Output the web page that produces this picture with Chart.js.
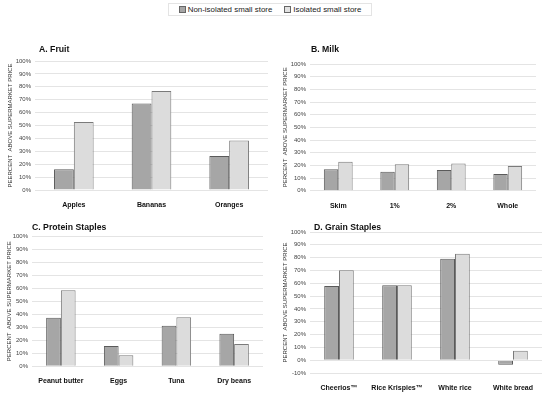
<!DOCTYPE html>
<html>
<head>
<meta charset="utf-8">
<script src="https://cdn.jsdelivr.net/npm/chart.js@4/dist/chart.umd.min.js"></script>
<style>
  html, body { margin:0; padding:0; background:#fff; }
  #wrap { position:relative; width:550px; height:397px; overflow:hidden; background:#fff; font-family:"Liberation Sans", Arial, sans-serif; }
  .cv { position:absolute; }
  #legend { position:absolute; left:168px; top:3px; width:204px; height:13px; border:1px solid #e4e4e4; box-sizing:border-box;
    font-size:7.9px; color:#222; display:flex; align-items:center; justify-content:center; gap:12px; white-space:nowrap; }
  #legend span.sw { display:inline-block; width:5px; height:5px; border:1px solid #666; margin-right:2px; vertical-align:-0.5px; }
</style>
</head>
<body>
<div id="wrap">
  <div id="legend">
    <div><span class="sw" style="background:#a6a6a6"></span>Non-isolated small store</div>
    <div><span class="sw" style="background:#e2e2e2"></span>Isolated small store</div>
  </div>
  <canvas id="cA" class="cv" style="left:0px;top:40px"></canvas>
  <canvas id="cB" class="cv" style="left:275px;top:40px"></canvas>
  <canvas id="cC" class="cv" style="left:0px;top:220px"></canvas>
  <canvas id="cD" class="cv" style="left:275px;top:220px"></canvas>
</div>
<script>
// ---- Data ----
const seriesNames = ["Non-isolated small store", "Isolated small store"];

const fruitCategories = ["Apples", "Bananas", "Oranges"];
const fruitNonIsolated = [16, 67, 26.3];
const fruitIsolated = [52.8, 76.8, 38.4];

const milkCategories = ["Skim", "1%", "2%", "Whole"];
const milkNonIsolated = [16.9, 15, 16.3, 13.2];
const milkIsolated = [22.9, 20.8, 21.5, 19.5];

const proteinCategories = ["Peanut butter", "Eggs", "Tuna", "Dry beans"];
const proteinNonIsolated = [37.3, 15.6, 31.2, 25];
const proteinIsolated = [58.3, 8.4, 37.6, 17.1];

const grainCategories = ["Cheerios\u2122", "Rice Krispies\u2122", "White rice", "White bread"];
const grainNonIsolated = [57.9, 58.4, 79.2, -3.6];
const grainIsolated = [70.1, 58.4, 83.1, 7.3];

const panelTitles = ["A. Fruit", "B. Milk", "C. Protein Staples", "D. Grain Staples"];
const axisTitles = ["PEERCENT  ABOVE SUPERMARKET PRICE", "PERCENT  ABOVE SUPERMARKET PRICE",
                    "PERCENT  ABOVE SUPERMARKET PRICE", "PERCENT  ABOVE SUPERMARKET PRICE"];
const yMinA = 0, yMinB = 0, yMinC = 0, yMinD = -10, yMax = 100, yStep = 10;

// ---- Chart builder ----
const FONT = "'Liberation Sans', Arial, sans-serif";

// Draws the panel title a few pixels right of the plot's left edge
const panelTitlePlugin = {
  id: 'panelTitle',
  afterDraw(chart, args, opts) {
    const ctx = chart.ctx;
    ctx.save();
    ctx.font = 'bold 8.7px ' + FONT;
    ctx.fillStyle = '#111';
    ctx.textBaseline = 'middle';
    ctx.textAlign = 'left';
    ctx.fillText(opts.text, chart.chartArea.left + opts.dx, opts.y);
    ctx.restore();
  }
};

function makeChart(id, cfg) {
  const cv = document.getElementById(id);
  return new Chart(cv, {
    type: 'bar',
    data: {
      labels: cfg.labels,
      datasets: [
        { label: seriesNames[0], data: cfg.d1, backgroundColor: '#a6a6a6', borderColor: '#5a5a5a', borderWidth: 1,
          categoryPercentage: 0.51, barPercentage: 1.0 },
        { label: seriesNames[1], data: cfg.d2, backgroundColor: '#dcdcdc', borderColor: '#7a7a7a', borderWidth: 1,
          categoryPercentage: 0.51, barPercentage: 1.0 }
      ]
    },
    plugins: [panelTitlePlugin],
    options: {
      responsive: false,
      maintainAspectRatio: false,
      animation: false,
      devicePixelRatio: 1,
      layout: { padding: { left: 0, right: cfg.padRight, top: cfg.padTop, bottom: 0 } },
      plugins: {
        legend: { display: false },
        tooltip: { enabled: false },
        title: { display: false },
        panelTitle: { text: cfg.title, dx: cfg.titleDx, y: cfg.titleY }
      },
      scales: {
        x: {
          grid: { display: false, drawTicks: false },
          border: { display: false },
          ticks: { color: '#111', font: { family: FONT, size: 7, weight: 'bold' }, padding: cfg.xPad, maxRotation: 0, autoSkip: false },
          afterFit: s => { s.height = cfg.xHeight; }
        },
        y: {
          min: cfg.yMin, max: yMax,
          grid: { color: '#e4e4e4', drawTicks: false, lineWidth: 1 },
          border: { display: false },
          ticks: { stepSize: yStep, color: '#444', font: { family: FONT, size: 6 }, padding: 4,
                   callback: v => v + '%' },
          title: { display: true, text: cfg.axisTitle, color: '#333', font: { family: FONT, size: 6 },
                   padding: { top: cfg.yTitlePad, bottom: 0 } },
          afterFit: s => { s.width = cfg.yWidth; }
        }
      }
    }
  });
}
function sizeCanvas(id, w, h) { const c = document.getElementById(id); c.width = w; c.height = h; c.style.width = w+'px'; c.style.height = h+'px'; }

sizeCanvas('cA', 275, 180);
sizeCanvas('cB', 275, 180);
sizeCanvas('cC', 275, 177);
sizeCanvas('cD', 275, 177);

// chart A: plot top 61 (canvas y 21), title centre y 49 (canvas 9)
makeChart('cA', { labels: fruitCategories, d1: fruitNonIsolated, d2: fruitIsolated, title: panelTitles[0],
  axisTitle: axisTitles[0], yMin: yMinA, padRight: 7, padTop: 21, titleDx: 4, titleY: 9.5, xPad: 11, xHeight: 30, yWidth: 35, yTitlePad: 7 });
makeChart('cB', { labels: milkCategories, d1: milkNonIsolated, d2: milkIsolated, title: panelTitles[1],
  axisTitle: axisTitles[1], yMin: yMinB, padRight: 14, padTop: 24, titleDx: 1, titleY: 9.5, xPad: 11, xHeight: 29.3, yWidth: 35, yTitlePad: 7 });
makeChart('cC', { labels: proteinCategories, d1: proteinNonIsolated, d2: proteinIsolated, title: panelTitles[2],
  axisTitle: axisTitles[2], yMin: yMinC, padRight: 12, padTop: 16, titleDx: 0, titleY: 7.5, xPad: 11, xHeight: 30.7, yWidth: 32, yTitlePad: 6 });
makeChart('cD', { labels: grainCategories, d1: grainNonIsolated, d2: grainIsolated, title: panelTitles[3],
  axisTitle: axisTitles[3], yMin: yMinD, padRight: 8, padTop: 12, titleDx: 4, titleY: 7.5, xPad: 11, xHeight: 24, yWidth: 35, yTitlePad: 7 });
</script>
</body>
</html>
